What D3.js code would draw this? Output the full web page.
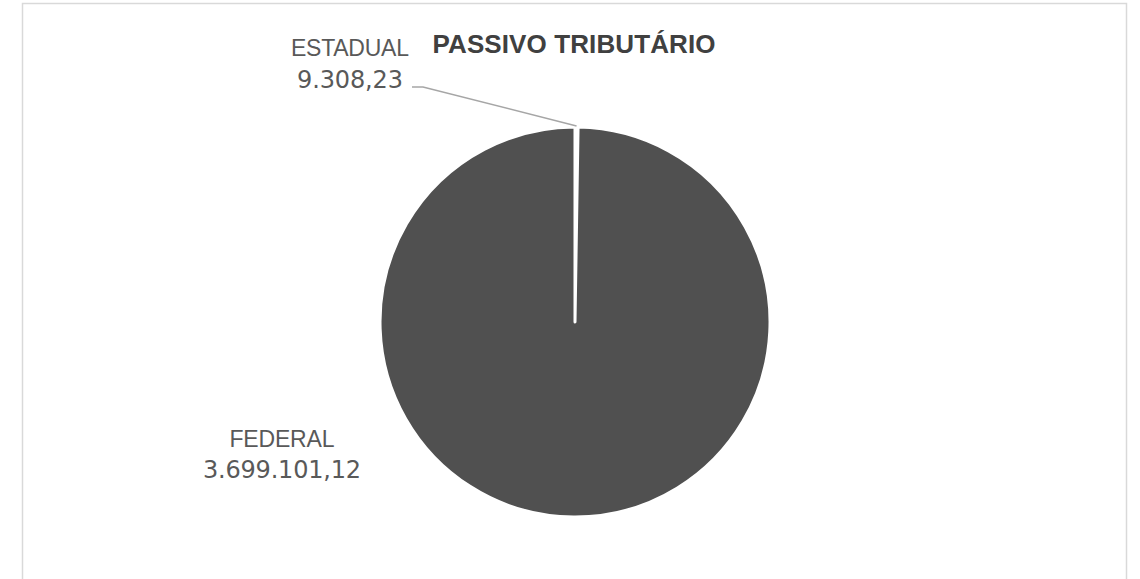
<!DOCTYPE html>
<html>
<head>
  <meta charset="utf-8">
  <script src="https://d3js.org/d3.v7.min.js"></script>
  <style>
  body { margin: 0; background: #fff; }
  .lbl { font-family: "Liberation Sans", Arial, sans-serif; font-size: 23px; fill: #595959; }
  .num { font-family: "DejaVu Sans", sans-serif; font-size: 24px; fill: #595959; }
  .title { font-family: "Liberation Sans", Arial, sans-serif; font-size: 26px; fill: #404040; }
  </style>
</head>
<body>
  <svg id="chart" width="1140" height="579"></svg>
  <script>
    const categories = ["FEDERAL", "ESTADUAL"];
    const values = [3699101.12, 9308.23];
    const valueLabels = ["3.699.101,12", "9.308,23"];

    const svg = d3.select("#chart");

    // chart frame
    svg.append("rect")
      .attr("x", 22.5).attr("y", 3.5)
      .attr("width", 1104).attr("height", 600)
      .attr("fill", "none").attr("stroke", "#d9d9d9").attr("stroke-width", 1.5);

    svg.append("text").attr("class", "title")
      .attr("x", 574).attr("y", 53)
      .attr("text-anchor", "middle")
      .attr("font-weight", "bold")
      .attr("textLength", 283)
      .text("PASSIVO TRIBUTÁRIO");

    const cx = 575, cy = 322, r = 195;
    const g = svg.append("g").attr("transform", "translate(" + cx + "," + cy + ")");

    // excel draws the second slice first, clockwise from 12 o'clock
    const pie = d3.pie().sort(null).value(d => d.v)
      .startAngle(0).endAngle(2 * Math.PI);
    const data = [
      { c: categories[1], v: values[1], l: valueLabels[1] },
      { c: categories[0], v: values[0], l: valueLabels[0] }
    ];
    const arcs = pie(data);
    const arc = d3.arc().innerRadius(0).outerRadius(r);

    g.selectAll("path").data(arcs).enter()
      .append("path")
      .attr("d", arc)
      .attr("fill", "#505050")
      .attr("stroke", "#fff")
      .attr("stroke-width", 3)
      .attr("stroke-linejoin", "round");

    // leader line for the small slice
    const est = arcs[0];
    const mid = (est.startAngle + est.endAngle) / 2;
    const p0 = [cx + Math.sin(mid) * (r + 1), cy - Math.cos(mid) * (r + 1)];
    svg.append("polyline")
      .attr("points", [p0, [423, 87], [412, 87]].map(p => p.join(",")).join(" "))
      .attr("fill", "none").attr("stroke", "#a6a6a6").attr("stroke-width", 1.5);

    svg.append("text").attr("class", "lbl")
      .attr("x", 350).attr("y", 56).attr("text-anchor", "middle")
      .attr("textLength", 118).text(est.data.c);
    svg.append("text").attr("class", "num")
      .attr("x", 350).attr("y", 88).attr("text-anchor", "middle")
      .attr("textLength", 106).text(est.data.l);

    const fed = arcs[1];
    svg.append("text").attr("class", "lbl")
      .attr("x", 282).attr("y", 447).attr("text-anchor", "middle")
      .attr("textLength", 105).text(fed.data.c);
    svg.append("text").attr("class", "num")
      .attr("x", 282).attr("y", 478).attr("text-anchor", "middle")
      .attr("textLength", 158).text(fed.data.l);
  </script>
</body>
</html>
